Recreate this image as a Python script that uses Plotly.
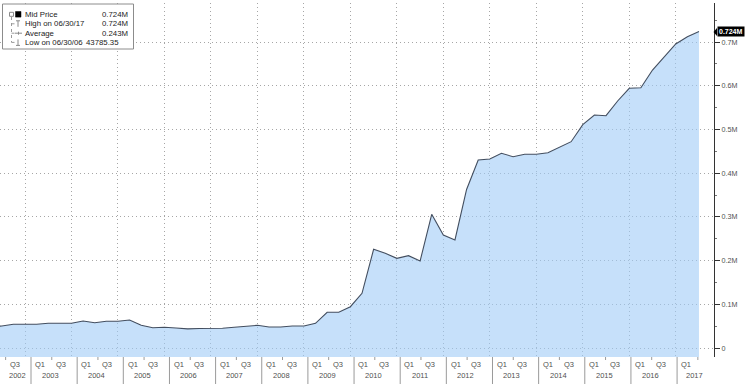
import plotly.graph_objects as go

# ---------------- data (quarter-end values) ----------------
quarters = [
    "2002Q1", "2002Q2", "2002Q3", "2002Q4",
    "2003Q1", "2003Q2", "2003Q3", "2003Q4",
    "2004Q1", "2004Q2", "2004Q3", "2004Q4",
    "2005Q1", "2005Q2", "2005Q3", "2005Q4",
    "2006Q1", "2006Q2", "2006Q3", "2006Q4",
    "2007Q1", "2007Q2", "2007Q3", "2007Q4",
    "2008Q1", "2008Q2", "2008Q3", "2008Q4",
    "2009Q1", "2009Q2", "2009Q3", "2009Q4",
    "2010Q1", "2010Q2", "2010Q3", "2010Q4",
    "2011Q1", "2011Q2", "2011Q3", "2011Q4",
    "2012Q1", "2012Q2", "2012Q3", "2012Q4",
    "2013Q1", "2013Q2", "2013Q3", "2013Q4",
    "2014Q1", "2014Q2", "2014Q3", "2014Q4",
    "2015Q1", "2015Q2", "2015Q3", "2015Q4",
    "2016Q1", "2016Q2", "2016Q3", "2016Q4",
    "2017Q1", "2017Q2",
]
mid_price = [
    49000, 50300, 54200, 54200,
    54200, 56500, 56500, 56500,
    61800, 57900, 61100, 61100,
    64100, 51900, 46400, 47400,
    45800, 43785.35, 44600, 45100,
    45100, 47400, 50300, 51900,
    48000, 48000, 50300, 50300,
    56500, 81700, 81700, 94500,
    125100, 225800, 216700, 205200,
    211200, 199000, 305900, 258500,
    247100, 362700, 430100, 432400,
    445400, 437700, 443100, 443100,
    446800, 459200, 472000, 511000,
    533100, 531500, 565100, 594100,
    595500, 636000, 666400, 695500,
    712200, 724000,
]
y_tick_vals = [0, 100000, 200000, 300000, 400000, 500000, 600000, 700000]
y_tick_text = ["0", "0.1M", "0.2M", "0.3M", "0.4M", "0.5M", "0.6M", "0.7M"]
years = list(range(2002, 2018))
legend_rows = [
    ("Mid Price", "0.724M"),
    ("High on 06/30/17", "0.724M"),
    ("Average", "0.243M"),
    ("Low on 06/30/06", "43785.35"),
]
last_label = "0.724M"
last_value = 724000

# ---------------- helpers ----------------
W, H = 749, 384
PL, PR, PT, PB = 0, 714, 3, 357


def qend(q):
    y, n = int(q[:4]), int(q[5])
    return y + n / 4.0


def px(x):
    return (x - PL) / (PR - PL)


def py(y):
    return (PB - y) / (PB - PT)


x = [qend(q) for q in quarters]
Y_MIN, Y_MAX = -20590, 789300

FONT = "Liberation Sans"
GRID = "#a6a6a6"
GDASH = "1px,3px"
LINE = "#434e5f"
FILL = "rgba(160,203,247,0.6)"
LABEL = "#505050"

fig = go.Figure()
fig.add_trace(go.Scatter(x=x, y=[Y_MIN] * len(x), mode="lines",
                         line=dict(width=0, color="rgba(0,0,0,0)"),
                         showlegend=False, hoverinfo="skip"))
fig.add_trace(go.Scatter(x=x, y=mid_price, mode="lines", fill="tonexty",
                         fillcolor=FILL, line=dict(color=LINE, width=1.1),
                         showlegend=False, name="Mid Price"))
# dummy trace to materialise the label-band axis
fig.add_trace(go.Scatter(x=[2010], y=[0], xaxis="x2", mode="markers",
                         marker=dict(opacity=0), showlegend=False,
                         hoverinfo="skip"))

shapes = []
annotations = []

# year separators, mid-year ticks, quarter & year labels (label band axis x2)
for yr in years:
    if yr >= 2003:
        shapes.append(dict(type="line", xref="x2", yref="paper", x0=yr, x1=yr,
                           y0=0, y1=-(H - PB) / (PB - PT),
                           line=dict(color="#9a9a9a", width=1)))
    shapes.append(dict(type="line", xref="x2", yref="paper",
                       x0=yr + 0.45, x1=yr + 0.45, y0=0, y1=-3 / (PB - PT),
                       line=dict(color="#9a9a9a", width=1)))
    for lab, off in (("Q1", 0.2), ("Q3", 0.65)):
        if yr == 2002 and lab == "Q1":
            continue
        if yr == 2017 and lab == "Q3":
            continue
        annotations.append(dict(xref="x2", yref="paper", x=yr + off,
                                y=py(364.5), text=lab, showarrow=False,
                                xanchor="center", yanchor="middle",
                                font=dict(family=FONT, size=7.5, color=LABEL)))
    yoff = 0.42
    if yr == 2002:
        yoff = 0.7
    if yr == 2017:
        yoff = 0.37
    annotations.append(dict(xref="x2", yref="paper", x=yr + yoff,
                            y=py(375.5), text=str(yr), showarrow=False,
                            xanchor="center", yanchor="middle",
                            font=dict(family=FONT, size=7.5, color=LABEL)))

# legend box
shapes.append(dict(type="rect", xref="paper", yref="paper",
                   x0=px(2.5), x1=px(133.5), y0=py(49), y1=py(4),
                   fillcolor="white", line=dict(color="#8c8c8c", width=1),
                   layer="above"))
row_y = [14.3, 23.8, 33.2, 42.4]
# tree connector
shapes.append(dict(type="line", xref="paper", yref="paper",
                   x0=px(11.5), x1=px(11.5), y0=py(17), y1=py(row_y[3]),
                   line=dict(color="#9a9a9a", width=1, dash="dot"), layer="above"))
for ry in row_y[1:]:
    shapes.append(dict(type="line", xref="paper", yref="paper",
                       x0=px(11.5), x1=px(15), y0=py(ry), y1=py(ry),
                       line=dict(color="#9a9a9a", width=1, dash="dot"), layer="above"))
# collapse box and black square
shapes.append(dict(type="rect", xref="paper", yref="paper",
                   x0=px(9.5), x1=px(13.5), y0=py(row_y[0] + 2), y1=py(row_y[0] - 2),
                   line=dict(color="#8a8a8a", width=1), fillcolor="white", layer="above"))
shapes.append(dict(type="rect", xref="paper", yref="paper",
                   x0=px(15.5), x1=px(21), y0=py(row_y[0] + 2.8), y1=py(row_y[0] - 2.8),
                   line=dict(color="black", width=0.5), fillcolor="black", layer="above"))
# high marker "T"
shapes.append(dict(type="line", xref="paper", yref="paper",
                   x0=px(16), x1=px(20), y0=py(row_y[1] - 3), y1=py(row_y[1] - 3),
                   line=dict(color="#8a8a8a", width=1), layer="above"))
shapes.append(dict(type="line", xref="paper", yref="paper",
                   x0=px(18), x1=px(18), y0=py(row_y[1] - 3), y1=py(row_y[1] + 3),
                   line=dict(color="#8a8a8a", width=1), layer="above"))
# average marker
shapes.append(dict(type="line", xref="paper", yref="paper",
                   x0=px(15), x1=px(22), y0=py(row_y[2]), y1=py(row_y[2]),
                   line=dict(color="#8a8a8a", width=1), layer="above"))
shapes.append(dict(type="line", xref="paper", yref="paper",
                   x0=px(18.5), x1=px(18.5), y0=py(row_y[2] - 1.5), y1=py(row_y[2] + 1.5),
                   line=dict(color="#8a8a8a", width=1), layer="above"))
# low marker
shapes.append(dict(type="line", xref="paper", yref="paper",
                   x0=px(16), x1=px(20), y0=py(row_y[3] + 3), y1=py(row_y[3] + 3),
                   line=dict(color="#8a8a8a", width=1), layer="above"))
shapes.append(dict(type="line", xref="paper", yref="paper",
                   x0=px(18), x1=px(18), y0=py(row_y[3] - 3), y1=py(row_y[3] + 3),
                   line=dict(color="#8a8a8a", width=1), layer="above"))

for i, (name, val) in enumerate(legend_rows):
    annotations.append(dict(xref="paper", yref="paper", x=px(23), y=py(row_y[i]),
                            text=name, showarrow=False, xanchor="left",
                            yanchor="middle",
                            font=dict(family=FONT, size=7.8, color="#222")))
    rx = 121 if i == 3 else 129.5
    annotations.append(dict(xref="paper", yref="paper", x=px(rx), y=py(row_y[i]),
                            text=val, showarrow=False, xanchor="right",
                            yanchor="middle",
                            font=dict(family=FONT, size=7.8, color="#222")))

# last value tag
annotations.append(dict(xref="paper", yref="y", x=px(716.5), y=last_value,
                        text="<b>" + last_label + "</b>", showarrow=False,
                        xanchor="left", yanchor="middle", bgcolor="black",
                        borderpad=1, font=dict(family=FONT, size=7, color="white")))
shapes.append(dict(type="path", xref="paper", yref="paper",
                   path="M %f %f L %f %f L %f %f Z" % (
                       px(713.5), py(32), px(717), py(28), px(717), py(36)),
                   fillcolor="black", line=dict(width=0)))

fig.update_layout(
    width=W, height=H,
    margin=dict(l=PL, r=W - PR, t=PT, b=H - PB, pad=0),
    paper_bgcolor="white", plot_bgcolor="white",
    showlegend=False,
    xaxis=dict(range=[2002.462, 2017.823], tickmode="array",
               tickvals=years[1:], showticklabels=False, ticks="",
               showgrid=True, gridcolor=GRID, griddash=GDASH, gridwidth=1,
               zeroline=False, showline=False, fixedrange=True),
    xaxis2=dict(range=[2002.328, 2017.80], overlaying="x", anchor="y",
                visible=False, fixedrange=True),
    yaxis=dict(range=[Y_MIN, Y_MAX], side="right", tickmode="array",
               tickvals=y_tick_vals, ticktext=y_tick_text,
               ticks="outside", ticklen=5, tickcolor="#333", tickwidth=1,
               tickfont=dict(family=FONT, size=7.2, color=LABEL),
               showgrid=True, gridcolor=GRID, griddash=GDASH, gridwidth=1,
               zeroline=False, showline=True, linecolor="#333", linewidth=1,
               minor=dict(tickmode="array",
                          tickvals=[v + 50000 for v in y_tick_vals],
                          ticks="outside", ticklen=2, tickcolor="#777",
                          showgrid=False),
               fixedrange=True),
    shapes=shapes,
    annotations=annotations,
)

fig.write_html("out.html")
